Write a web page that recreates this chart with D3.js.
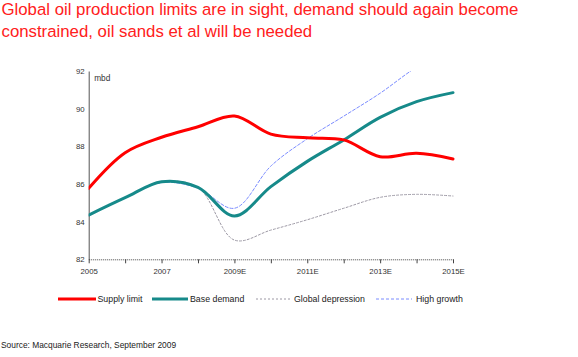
<!DOCTYPE html>
<html><head><meta charset="utf-8">
<script src="https://cdn.jsdelivr.net/npm/d3@7"></script>
<style>
html,body{margin:0;padding:0;background:#fff;}
svg{display:block;font-family:"Liberation Sans",Arial,sans-serif;}
</style></head>
<body><svg id="c" width="578" height="357"></svg>
<script>
const titleLines = ["Global oil production limits are in sight, demand should again become",
                    "constrained, oil sands et al will be needed"];
const years = [2005,2006,2007,2008,2009,2010,2011,2012,2013,2014,2015];
const xTickLabels = ["2005","","2007","","2009E","","2011E","","2013E","","2015E"];
const yTicks = [82,84,86,88,90,92];
const supplyLimit = [85.77,87.66,88.48,89.04,89.61,88.65,88.45,88.34,87.45,87.63,87.33];
const baseDemand  = [84.35,85.27,86.12,85.82,84.30,85.86,87.20,88.34,89.54,90.37,90.85];
const globalDepression = [84.35,85.27,86.12,85.82,83.02,83.55,84.10,84.71,85.29,85.45,85.36];
const highGrowth = [84.35,85.27,86.07,85.78,84.71,86.95,88.40,89.60,90.82,92.20,93.20];
const seriesNames = ["Supply limit","Base demand","Global depression","High growth"];
const unitLabel = "mbd";
const sourceText = "Source: Macquarie Research, September 2009";

const svg = d3.select("#c");
const x = d3.scaleLinear().domain([2005,2015]).range([88.7,453]);
const y = d3.scaleLinear().domain([82,92]).range([259.3,71]);

const styles = [
  {data:supplyLimit, color:"#ff0000", w:3, dash:null},
  {data:baseDemand, color:"#168a8a", w:3, dash:null},
  {data:globalDepression, color:"#9c98a4", w:1, dash:"2,2"},
  {data:highGrowth, color:"#7b8cff", w:1, dash:"3,2"}
];

// title
svg.append("g").selectAll("text").data(titleLines).join("text")
  .attr("x",1.5).attr("y",(d,i)=>15+i*21.5)
  .attr("font-size",16.8).attr("fill","#ff2020").text(d=>d);

// clip
svg.append("clipPath").attr("id","clip").append("rect")
  .attr("x",x(2005)).attr("y",y(92)).attr("width",x(2015)-x(2005)+2).attr("height",y(82)-y(92));

const axisFont = "Liberation Sans, Arial, sans-serif";
// y axis
const yAxis = svg.append("g").attr("transform",`translate(${x(2005)},0)`)
  .call(d3.axisLeft(y).tickValues(yTicks).tickSize(0).tickPadding(4).tickFormat(d3.format("d")));
yAxis.select(".domain").attr("stroke","#555");
yAxis.selectAll("text").attr("font-size",7.8).attr("fill","#333").attr("font-family",axisFont);

// x axis
const xAxis = svg.append("g").attr("transform",`translate(0,${y(82)})`)
  .call(d3.axisBottom(x).tickValues(years).tickSize(4).tickSizeOuter(0).tickPadding(5)
        .tickFormat((d,i)=>xTickLabels[i]));
xAxis.select(".domain").attr("stroke","#444").attr("stroke-dasharray","1,1");
xAxis.selectAll(".tick line").attr("stroke","#444");
xAxis.selectAll("text").attr("font-size",7.8).attr("fill","#333").attr("font-family",axisFont);

svg.append("text").attr("x",x(2005)+5.5).attr("y",y(92)+10).attr("font-size",8.3).attr("fill","#333").text(unitLabel);

// lines
const line = d3.line().x((d,i)=>x(years[i])).y(d=>y(d)).curve(d3.curveCatmullRom.alpha(0.5));
const g = svg.append("g").attr("clip-path","url(#clip)");
[3,2,1,0].forEach(k=>{
  const s = styles[k];
  g.append("path").datum(s.data).attr("d",line).attr("fill","none")
   .attr("stroke",s.color).attr("stroke-width",s.w)
   .attr("stroke-dasharray",s.dash).attr("stroke-linejoin","round").attr("stroke-linecap","round");
});

// legend
const legX = [[58,96,97.5],[152,188,190],[256,292,294],[376,412,416]];
const leg = svg.append("g");
seriesNames.forEach((n,k)=>{
  const s = styles[k], p = legX[k];
  leg.append("line").attr("x1",p[0]).attr("x2",p[1]).attr("y1",299).attr("y2",299)
    .attr("stroke",s.color).attr("stroke-width",s.w).attr("stroke-dasharray",s.dash);
  leg.append("text").attr("x",p[2]).attr("y",302).attr("font-size",8.8).attr("fill","#222").text(n);
});

svg.append("text").attr("x",1).attr("y",348).attr("font-size",8.4).attr("fill","#222").text(sourceText);
</script></body></html>
